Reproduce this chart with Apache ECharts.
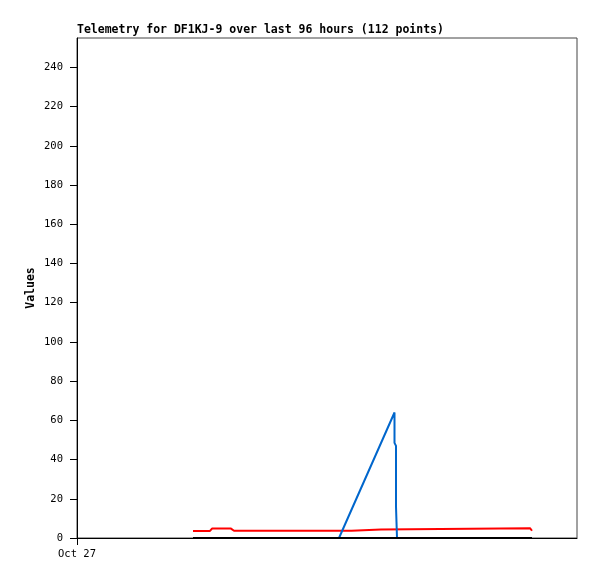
<!DOCTYPE html>
<html>
<head>
<meta charset="utf-8">
<script src="https://cdn.jsdelivr.net/npm/echarts@6/dist/echarts.min.js"></script>
<style>
  html, body { margin: 0; padding: 0; background: #fff; }
  #chart { width: 597px; height: 579px; }
</style>
</head>
<body>
<div id="chart"></div>
<script>
// hours since Oct 27 00:00
const xTicks = [0]
const xTickLabels = ['Oct 27']
const yTicks = [0, 20, 40, 60, 80, 100, 120, 140, 160, 180, 200, 220, 240]

const redSeries = [
  [23.2, 3.6], [26.6, 3.6], [27.0, 4.8], [30.8, 4.8], [31.4, 3.7], [54.9, 3.7],
  [54.9, 4.3], [60.8, 4.3], [60.8, 5.0], [90.6, 5.0], [91.0, 3.7]
]
const blueSeries = [
  [23.2, 0], [52.4, 0], [63.5, 64], [63.5, 48.5], [63.8, 47], [63.8, 16],
  [64.0, 15], [64.0, 0], [91.0, 0]
]
const blackSeries = [[23.2, 0], [91.0, 0]]

const mono = '"DejaVu Sans Mono", monospace'
const chart = echarts.init(document.getElementById('chart'))

function line(name, data, color) {
  return {
    name, type: 'line', data, showSymbol: false, symbol: 'none',
    lineStyle: { color, width: 2 }, itemStyle: { color }, animation: false
  }
}

chart.setOption({
  animation: false,
  title: {
    text: 'Telemetry for DF1KJ-9 over last 96 hours (112 points)',
    left: 72, top: 19,
    textStyle: { fontFamily: mono, fontSize: 11.5, fontWeight: 'bold', color: '#000' }
  },
  grid: { left: 77, right: 20, top: 38, bottom: 41, show: true, borderColor: '#444', borderWidth: 1 },
  xAxis: {
    type: 'value', min: 0, max: 100,
    axisLine: { show: true, onZero: false, lineStyle: { color: '#000', width: 1 } },
    axisTick: { show: true, length: 7, customValues: xTicks, lineStyle: { color: '#000' } },
    axisLabel: {
      customValues: xTicks, margin: 11,
      formatter: (v) => xTickLabels[xTicks.indexOf(v)] ?? '',
      fontFamily: mono, fontSize: 10.5, color: '#000'
    },
    splitLine: { show: false }
  },
  yAxis: {
    type: 'value', min: 0, max: 255,
    name: 'Values', nameLocation: 'middle', nameGap: 40, nameMoveOverlap: false,
    nameTextStyle: { fontFamily: mono, fontSize: 11.5, fontWeight: 'bold', color: '#000' },
    axisLine: { show: true, lineStyle: { color: '#000', width: 1 } },
    axisTick: { show: true, length: 7, customValues: yTicks, lineStyle: { color: '#000' } },
    axisLabel: { customValues: yTicks, margin: 14, fontFamily: mono, fontSize: 10.5, color: '#000' },
    splitLine: { show: false }
  },
  series: [
    line('red', redSeries, '#ff0000'),
    line('blue', blueSeries, '#0066cc'),
    line('black', blackSeries, '#000000')
  ]
})
</script>
</body>
</html>
